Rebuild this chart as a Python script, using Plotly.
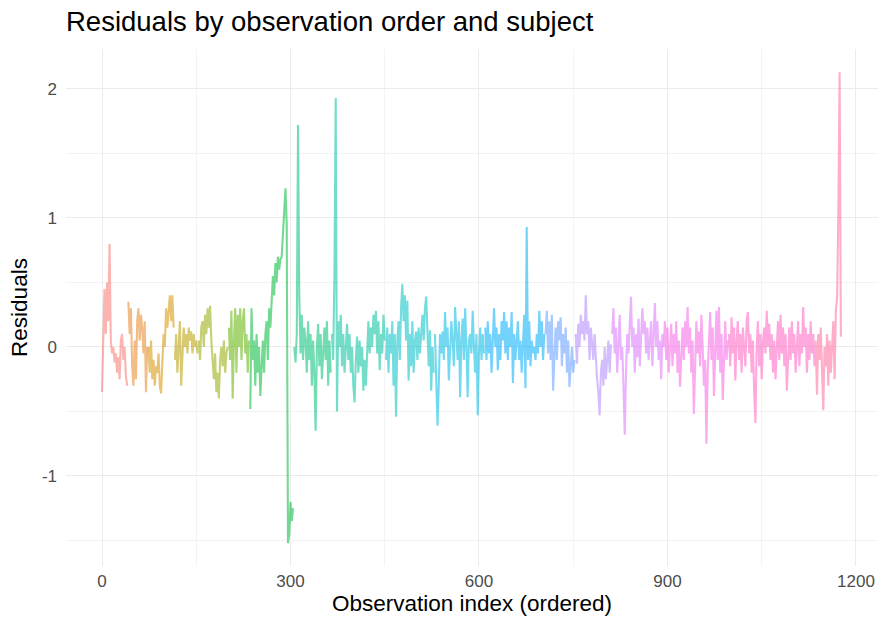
import math
import plotly.graph_objects as go

# ---- data (observation index step = 2) ----
subject_start = [0, 42, 74, 116, 154, 202, 236, 306, 366, 452, 530, 610, 706, 754, 812, 894, 998, 1136]
obs_step = 2

res_s01 = [-0.35, 0.15, 0.45, 0.1, 0.5, 0.2, 0.8, 0.05, -0.05, 0.0, -0.12, -0.05, -0.2, -0.08, -0.25, 0.05, 0.1, -0.1, 0.0, -0.22, -0.3]
res_s02 = [0.35, 0.1, 0.3, -0.15, -0.3, 0.05, -0.25, 0.2, 0.3, 0.05, 0.25, 0.15, -0.05, 0.2, -0.35, 0.0]
res_s03 = [0.0, -0.2, 0.05, -0.25, -0.1, -0.3, -0.15, -0.2, -0.05, -0.3, -0.36, -0.1, 0.1, 0.0, 0.3, 0.15, 0.25, 0.4, 0.2, 0.4, 0.15]
res_s04 = [-0.1, 0.1, -0.2, 0.05, 0.2, -0.3, -0.05, 0.15, 0.0, 0.1, -0.05, 0.15, 0.05, 0.12, -0.05, 0.1, 0.0, 0.05, -0.05]
res_s05 = [0.05, -0.1, 0.15, 0.2, 0.0, 0.25, 0.1, 0.3, 0.15, 0.32, 0.05, -0.1, -0.25, -0.05, -0.35, -0.2, -0.4, -0.1, 0.0, -0.15, 0.05, -0.2, -0.05, 0.0]
res_s06 = [0.15, -0.1, 0.28, -0.4, 0.05, 0.3, -0.2, 0.25, 0.0, 0.3, -0.1, 0.2, 0.3, -0.05, 0.1, -0.2, 0.05]
res_s07 = [-0.48, 0.3, -0.1, 0.05, -0.3, 0.1, -0.2, 0.0, -0.38, -0.1, 0.05, -0.2, 0.1, 0.2, -0.1, 0.3, 0.15, 0.35, 0.55, 0.4,
           0.65, 0.5, 0.7, 0.6, 0.68, 0.7, 0.9, 1.05, 1.23, 0.95, -1.52, -1.45, -1.2, -1.35, -1.25]
res_s08 = [0.0, -0.12, 0.1, 1.72, 0.4, -0.05, 0.25, -0.1, 0.15, 0.05, -0.2, 0.2, -0.1, 0.1, -0.3, 0.05, -0.2, -0.65, 0.0, 0.18,
           -0.15, 0.1, -0.25, -0.05, 0.15, -0.1, 0.2, -0.3, 0.05, -0.2]
res_s09 = [0.1, -0.1, 0.6, 1.93, -0.5, 0.2, 0.0, 0.25, -0.15, 0.1, -0.2, 0.05, 0.18, -0.1, 0.1, -0.2, 0.0, -0.3, -0.43, -0.1,
           0.08, -0.2, 0.05, -0.15, 0.0, -0.34, -0.1, -0.3, 0.0, 0.2, -0.05, 0.15, 0.0, 0.25, 0.1, 0.28, -0.05, 0.2, -0.18, 0.1,
           -0.05, 0.25, 0.05]
res_s10 = [-0.1, 0.15, -0.2, 0.1, -0.05, 0.2, -0.3, 0.1, -0.54, 0.05, 0.2, -0.1, 0.3, 0.49, 0.2, 0.4, 0.05, 0.36, -0.26, 0.1,
           -0.15, 0.2, -0.2, 0.05, 0.12, -0.1, 0.15, -0.05, 0.1, 0.25, 0.05, 0.3, 0.39, 0.1, -0.15, 0.13, -0.34, 0.0, -0.2]
res_s11 = [0.1, -0.2, -0.61, -0.3, 0.1, -0.05, 0.12, -0.1, 0.27, 0.0, 0.15, -0.26, -0.05, 0.2, 0.05, -0.15, 0.31, 0.1, -0.1, 0.2,
           -0.39, 0.05, 0.22, -0.1, 0.3, 0.0, -0.39, 0.05, 0.1, -0.05, 0.28, 0.0, -0.2, 0.1, -0.53, -0.05, 0.15, -0.1, 0.1, -0.05]
res_s12 = [0.15, -0.1, 0.2, -0.05, 0.1, -0.2, 0.05, 0.3, 0.0, 0.15, -0.18, 0.1, -0.1, 0.2, 0.05, 0.27, -0.05, 0.2, -0.1, 0.15,
           0.0, 0.27, -0.28, 0.1, -0.1, 0.05, 0.2, -0.1, 0.05, -0.2, 0.1, 0.25, -0.32, 0.93, -0.1, 0.2, -0.15, 0.05, -0.05, 0.0,
           -0.1, 0.1, -0.05, 0.28, 0.0, 0.2, -0.1, 0.1]
res_s13 = [0.1, 0.28, -0.05, 0.2, -0.1, 0.25, -0.34, 0.0, 0.15, -0.1, 0.2, 0.05, 0.23, -0.15, 0.1, -0.05, 0.15, -0.2, 0.05, -0.31,
           -0.1, 0.0, -0.2, -0.1]
res_s14 = [0.1, -0.13, 0.18, 0.0, 0.25, 0.1, 0.2, 0.05, 0.4, 0.1, 0.2, -0.1, 0.15, 0.0, -0.1, 0.1, -0.15, -0.25, -0.35, -0.53,
           -0.2, -0.1, -0.3, 0.0, -0.25, -0.05, 0.05, -0.2, 0.02]
res_s15 = [0.1, 0.3, -0.05, 0.15, -0.2, 0.05, 0.25, -0.1, 0.0, -0.3, -0.68, -0.2, 0.1, -0.05, 0.2, 0.39, 0.0, 0.15, -0.2, 0.1,
           -0.08, 0.22, -0.15, 0.05, 0.3, 0.1, 0.2, -0.05, 0.15, -0.1, 0.05, 0.2, -0.15, 0.1, 0.34, 0.0, 0.2, -0.1, 0.05, -0.25,
           0.1]
res_s16 = [0.0, 0.2, -0.1, 0.15, -0.2, 0.05, 0.18, -0.15, 0.1, -0.05, 0.2, -0.2, 0.05, -0.31, 0.0, 0.15, -0.1, 0.2, 0.0, 0.31,
           -0.05, 0.15, -0.2, 0.05, -0.52, -0.1, 0.2, -0.05, 0.12, -0.15, 0.25, 0.0, -0.3, -0.1, -0.75, -0.2, 0.1, 0.27, -0.1, 0.15,
           -0.38, 0.05, 0.28, -0.1, 0.31, -0.2, 0.1, -0.41, 0.0, 0.2, -0.1, 0.05]
res_s17 = [0.1, -0.15, 0.23, -0.05, 0.15, -0.26, 0.05, 0.2, -0.1, 0.1, -0.2, 0.15, 0.0, -0.15, 0.2, 0.27, -0.05, 0.1, -0.2, 0.05,
           -0.35, -0.59, 0.0, 0.2, -0.15, 0.1, -0.25, 0.05, 0.15, -0.05, 0.28, 0.0, 0.18, -0.1, 0.1, -0.2, 0.05, -0.25, 0.0, 0.2,
           -0.1, 0.25, -0.05, 0.15, -0.15, 0.1, -0.34, 0.0, 0.15, -0.1, 0.2, -0.05, 0.1, -0.2, 0.05, 0.2, -0.15, 0.1, -0.05, 0.31,
           0.0, 0.15, -0.2, 0.1, -0.1, 0.2, -0.05, 0.1, -0.15]
res_s18 = [0.05, -0.37, 0.1, -0.1, 0.15, -0.2, -0.49, 0.0, -0.15, 0.1, -0.3, 0.05, -0.2, 0.0, 0.2, -0.25, 0.28, 0.38, 1.05, 2.13,
           0.08]

residual_series = [res_s01, res_s02, res_s03, res_s04, res_s05, res_s06, res_s07, res_s08, res_s09,
                   res_s10, res_s11, res_s12, res_s13, res_s14, res_s15, res_s16, res_s17, res_s18]
subject_names = ["S%02d" % (i + 1) for i in range(len(residual_series))]

x_ticks = [0, 300, 600, 900, 1200]
y_ticks = [-1, 0, 1, 2]


# ---- ggplot2-like hue palette (hcl, l=65, c=100) ----
def hcl_hex(h, c=100.0, l=65.0):
    WHITE_Y, WHITE_u, WHITE_v = 100.0, 0.1978398, 0.4683363
    hr = math.radians(h)
    U, V = c * math.cos(hr), c * math.sin(hr)
    Y = WHITE_Y * (((l + 16) / 116) ** 3 if l > 7.999592 else l / 903.3)
    u = U / (13 * l) + WHITE_u
    v = V / (13 * l) + WHITE_v
    X = 9.0 * Y * u / (4 * v)
    Z = -X / 3 - 5 * Y + 3 * Y / v

    def g(t):
        t = 1.055 * t ** (1 / 2.4) - 0.055 if t > 0.00304 else 12.92 * t
        return min(1.0, max(0.0, t))

    r = g((3.240479 * X - 1.537150 * Y - 0.498535 * Z) / WHITE_Y)
    gg = g((-0.969256 * X + 1.875992 * Y + 0.041556 * Z) / WHITE_Y)
    b = g((0.055648 * X - 0.204043 * Y + 1.057311 * Z) / WHITE_Y)
    return "rgba(%d,%d,%d,0.55)" % (round(r * 255), round(gg * 255), round(b * 255))


n = len(residual_series)
colors = [hcl_hex(15 + 360.0 * i / n) for i in range(n)]

fig = go.Figure()
for name, start, vals, col in zip(subject_names, subject_start, residual_series, colors):
    xs = [start + obs_step * i for i in range(len(vals))]
    fig.add_trace(go.Scatter(x=xs, y=vals, mode="lines", name=name,
                             line=dict(color=col, width=2.1), showlegend=False,
                             hoverinfo="skip"))

font_family = "Liberation Sans, Arial, sans-serif"
grid_col = "#ebebeb"

fig.update_layout(
    width=883, height=626,
    margin=dict(l=66, r=5, t=49, b=60),
    paper_bgcolor="white", plot_bgcolor="white",
    font=dict(family=font_family, color="black"),
    title=dict(text="Residuals by observation order and subject",
               x=66 / 883, xref="container", xanchor="left",
               y=1 - 21 / 626, yref="container", yanchor="middle",
               font=dict(size=27.5, family=font_family, color="black")),
    xaxis=dict(range=[-57.3, 1235.1], tickvals=x_ticks, ticktext=[str(t) for t in x_ticks],
               showgrid=True, gridcolor=grid_col, gridwidth=1.1, zeroline=False,
               showline=False, ticks="", ticklabelstandoff=3,
               tickfont=dict(size=17, color="#4d4d4d", family=font_family),
               minor=dict(tickvals=[-150 + 300 * k for k in range(0, 6)], showgrid=True,
                          gridcolor="#f3f3f3", gridwidth=0.8),
               title=dict(text="Observation index (ordered)", standoff=4,
                          font=dict(size=22.5, color="black", family=font_family))),
    yaxis=dict(range=[-1.698, 2.31], tickvals=y_ticks, ticktext=[str(t) for t in y_ticks],
               showgrid=True, gridcolor=grid_col, gridwidth=1.1, zeroline=False,
               showline=False, ticks="", ticklabelstandoff=8,
               tickfont=dict(size=17, color="#4d4d4d", family=font_family),
               minor=dict(tickvals=[-1.5, -0.5, 0.5, 1.5], showgrid=True,
                          gridcolor="#f3f3f3", gridwidth=0.8),
               title=dict(text="Residuals", standoff=8,
                          font=dict(size=22.5, color="black", family=font_family))),
)

fig.write_html("out.html")
